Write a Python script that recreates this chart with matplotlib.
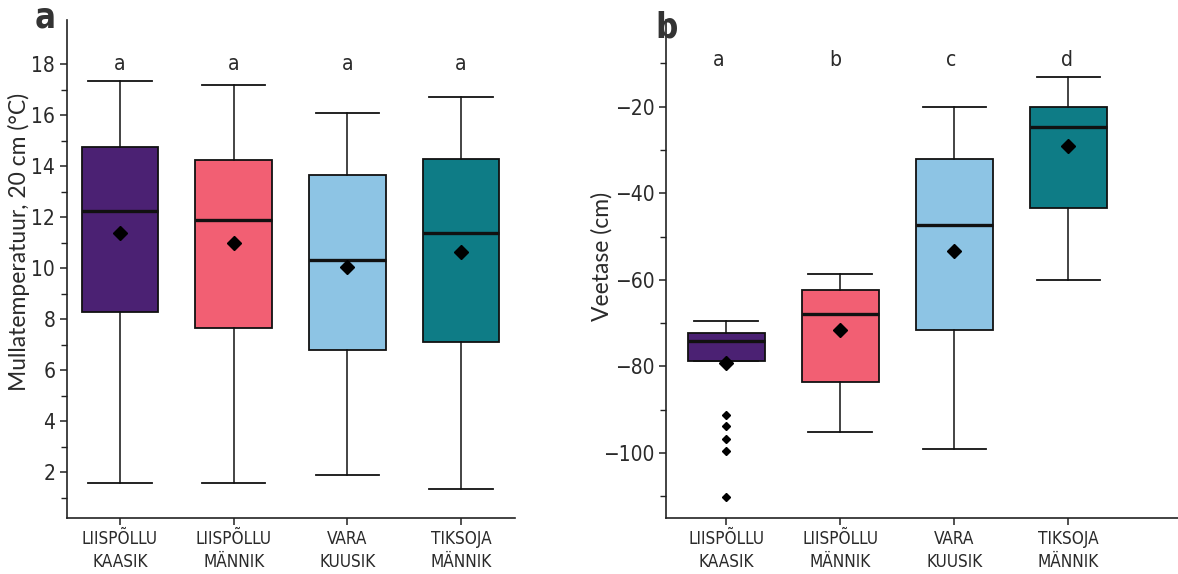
import matplotlib
matplotlib.use("Agg")
import matplotlib.pyplot as plt

plt.rcParams['font.family'] = ['DejaVu Sans']
plt.rcParams['font.stretch'] = 'condensed'

sites = ["LIISPÕLLU\nKAASIK", "LIISPÕLLU\nMÄNNIK", "VARA\nKUUSIK", "TIKSOJA\nMÄNNIK"]
colors = ["#4B2173", "#F25F73", "#8DC4E4", "#0E7C86"]

# panel a: soil temperature at 20 cm
temp_whislo = [1.56, 1.56, 1.88, 1.32]
temp_q1 = [8.26, 7.66, 6.77, 7.11]
temp_med = [12.24, 11.88, 10.33, 11.36]
temp_q3 = [14.73, 14.24, 13.67, 14.29]
temp_whishi = [17.33, 17.19, 16.08, 16.72]
temp_mean = [11.36, 10.99, 10.03, 10.63]
temp_fliers = [[], [], [], []]
temp_letters = ["a", "a", "a", "a"]

# panel b: water table
wt_whislo = [-78.7, -95.1, -99.1, -60.0]
wt_q1 = [-78.7, -83.5, -71.5, -43.4]
wt_med = [-74.1, -68.0, -47.4, -24.7]
wt_q3 = [-72.3, -62.4, -32.1, -20.0]
wt_whishi = [-69.4, -58.7, -20.0, -13.1]
wt_mean = [-79.3, -71.6, -53.3, -29.2]
wt_fliers = [[-91.1, -93.7, -96.8, -99.5, -110.1], [], [], []]
wt_letters = ["a", "b", "c", "d"]


def make_stats(lo, q1, med, q3, hi, mean, fl):
    out = []
    for i in range(len(med)):
        out.append(dict(whislo=lo[i], q1=q1[i], med=med[i], q3=q3[i],
                        whishi=hi[i], mean=mean[i], fliers=fl[i]))
    return out


fig = plt.figure(figsize=(11.78, 5.74), dpi=100)
ax1 = fig.add_axes([67 / 1178, 1 - 518 / 574, 448 / 1178, 498 / 574])
ax2 = fig.add_axes([666 / 1178, 1 - 518 / 574, 512 / 1178, 498 / 574])

txt = "#2a2a2a"


def draw(ax, stats, letters, letter_y, letter_dx):
    bp = ax.bxp(stats, positions=[1, 2, 3, 4], widths=0.675, capwidths=0.557,
                patch_artist=True, showmeans=True, showfliers=True,
                boxprops=dict(edgecolor="#111111", linewidth=1.3),
                whiskerprops=dict(color="#111111", linewidth=1.1),
                capprops=dict(color="#111111", linewidth=1.3),
                medianprops=dict(color="#111111", linewidth=2.4),
                meanprops=dict(marker="D", markerfacecolor="black",
                               markeredgecolor="black", markersize=7),
                flierprops=dict(marker="D", markerfacecolor="black",
                                markeredgecolor="black", markersize=4.5))
    for patch, c in zip(bp["boxes"], colors):
        patch.set_facecolor(c)
    for i, l in enumerate(letters):
        ax.text(i + 1 + letter_dx[i], letter_y, l, ha="center", va="center",
                fontsize=15, color=txt)
    for s in ["top", "right"]:
        ax.spines[s].set_visible(False)
    for s in ["left", "bottom"]:
        ax.spines[s].set_linewidth(1.2)
        ax.spines[s].set_color("#222222")
    ax.set_xticks([1, 2, 3, 4])
    ax.set_xticklabels(sites, fontsize=12.3, color=txt, linespacing=1.35)
    ax.tick_params(axis="both", which="major", length=5, width=1.1,
                   colors="#222222", labelcolor=txt)
    ax.tick_params(axis="y", labelsize=15)
    ax.tick_params(axis="y", which="minor", length=4, width=1.0, colors="#222222")


draw(ax1, make_stats(temp_whislo, temp_q1, temp_med, temp_q3, temp_whishi,
                     temp_mean, temp_fliers), temp_letters, 18.0,
     [0, 0, 0, 0])
ax1.set_xlim(0.534, 4.475)
ax1.set_ylim(0.2, 19.73)
ax1.set_yticks([2, 4, 6, 8, 10, 12, 14, 16, 18])
ax1.set_yticks([1, 3, 5, 7, 9, 11, 13, 15, 17], minor=True)
ax1.set_ylabel("Mullatemperatuur, 20 cm (°C)", fontsize=16.5, color=txt,
               family=["Lato", "DejaVu Sans"], fontstretch="normal")
ax1.yaxis.set_label_coords(-0.082, 0.554)

draw(ax2, make_stats(wt_whislo, wt_q1, wt_med, wt_q3, wt_whishi,
                     wt_mean, wt_fliers), wt_letters, -9.2,
     [-0.06, -0.04, -0.03, -0.01])
ax2.set_xlim(0.474, 4.96)
ax2.set_ylim(-115, 0)
ax2.set_yticks([-100, -80, -60, -40, -20])
ax2.set_yticks([-110, -90, -70, -50, -30, -10], minor=True)
ax2.set_ylabel("Veetase (cm)", fontsize=16.5, color=txt,
               family=["Lato", "DejaVu Sans"], fontstretch="normal")
ax2.yaxis.set_label_coords(-0.104, 0.525)

fig.text(45 / 1178, 1 - 28 / 574, "a", fontsize=25, color="#333333",
         ha="center", va="baseline", weight="bold")
fig.text(667 / 1178, 1 - 38 / 574, "b", fontsize=25, color="#333333",
         ha="center", va="baseline", weight="bold")

fig.savefig("out.png", dpi=100)
